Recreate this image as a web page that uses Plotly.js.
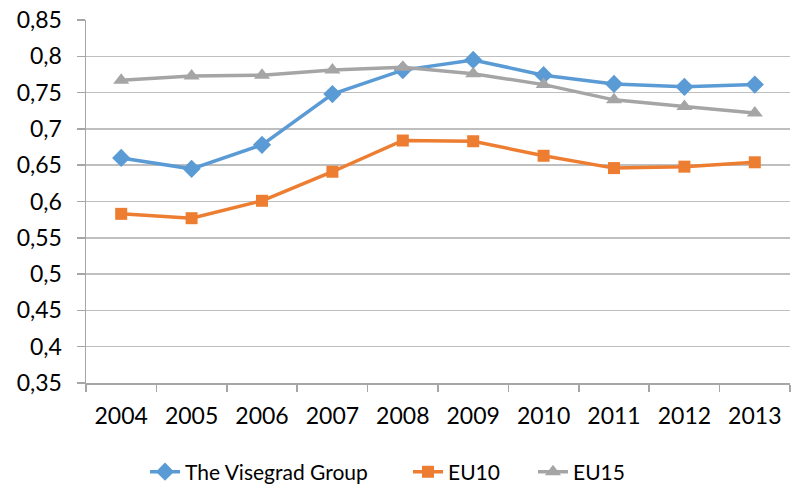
<!DOCTYPE html>
<html><head><meta charset="utf-8">
<script src="https://cdn.plot.ly/plotly-3.0.1.min.js"></script>
<style>body{margin:0;background:#fff}#chart{width:794px;height:488px}</style>
</head><body><div id="chart"></div>
<script>
const years = ["2004","2005","2006","2007","2008","2009","2010","2011","2012","2013"];
const visegrad = [0.660,0.645,0.678,0.748,0.781,0.795,0.774,0.762,0.758,0.761];
const eu10 = [0.583,0.577,0.601,0.641,0.684,0.683,0.663,0.646,0.648,0.654];
const eu15 = [0.767,0.773,0.774,0.781,0.785,0.776,0.761,0.740,0.731,0.722];
const yTickVals = [0.35,0.4,0.45,0.5,0.55,0.6,0.65,0.7,0.75,0.8,0.85];
const yTickText = ["0,35","0,4","0,45","0,5","0,55","0,6","0,65","0,7","0,75","0,8","0,85"];
const seriesNames = ["The Visegrad Group","EU10","EU15"];

const font = "Lato, 'Open Sans', sans-serif";
const traces = [
  {x: years, y: visegrad, name: seriesNames[0], legend: "legend", mode: "lines+markers", line:{color:"#5B9BD5", width:3.5}, marker:{symbol:"diamond", size:14, color:"#5B9BD5"}},
  {x: years, y: eu10, name: seriesNames[1], legend: "legend2", mode: "lines+markers", line:{color:"#ED7D31", width:3.5}, marker:{symbol:"square", size:12, color:"#ED7D31"}},
  {x: years, y: eu15, name: seriesNames[2], legend: "legend3", mode: "lines+markers", line:{color:"#A5A5A5", width:3.5}, marker:{symbol:"triangle-up", size:14, color:"#A5A5A5"}}
];
function leg(textStart) {
  return {orientation: "h", x: (textStart - 40) / 794, xanchor: "left", xref: "container",
    y: 16/488, yanchor: "middle", yref: "container", font: {size: 21}, bgcolor: "rgba(0,0,0,0)"};
}
const layout = {
  width: 794, height: 488,
  margin: {l: 86, r: 4, t: 20, b: 105, autoexpand: false},
  paper_bgcolor: "#fff", plot_bgcolor: "#fff",
  font: {family: font, size: 23, color: "#000"},
  showlegend: true,
  legend: leg(185), legend2: leg(448), legend3: leg(573),
  xaxis: {type: "category", range: [-0.5, 9.5], tickson: "boundaries", ticks: "outside", ticklen: 7, tickcolor: "#A6A6A6", tickwidth: 1.5,
    showline: true, linecolor: "#A6A6A6", linewidth: 1.5, showgrid: false, zeroline: false, fixedrange: true, tickfont:{size:23}, ticklabelstandoff: 12},
  yaxis: {range: [0.35, 0.85], tickvals: yTickVals, ticktext: yTickText, ticks: "outside", ticklen: 8, tickcolor: "#A6A6A6", tickwidth: 1.5,
    showline: true, linecolor: "#A6A6A6", linewidth: 1.5, showgrid: true, gridcolor: "#BFBFBF", gridwidth: 1.5, zeroline: false, tickfont:{size:23}, ticklabelstandoff: 10}
};
Plotly.newPlot("chart", traces, layout, {staticPlot: true, displayModeBar: false});
</script></body></html>
